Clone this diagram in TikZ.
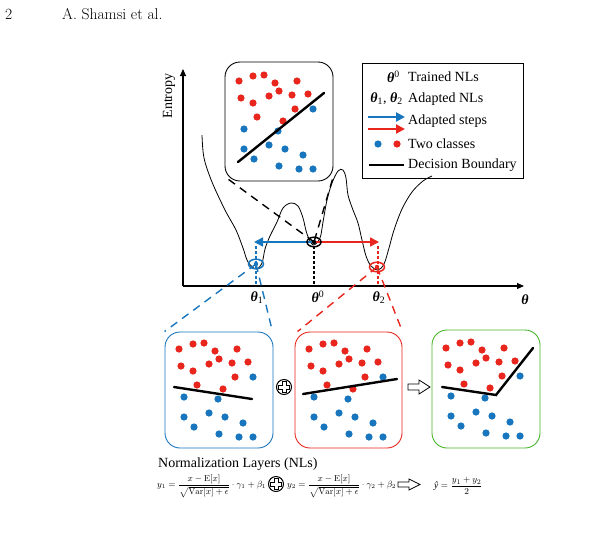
\documentclass[tikz,border=0pt]{standalone}
\usepackage{amsmath}
\usepackage{fontspec}
\newfontfamily\tnr{Liberation Serif}
\usetikzlibrary{arrows.meta}
\definecolor{cblue}{RGB}{23,118,190}
\definecolor{cred}{RGB}{232,38,30}
\definecolor{cgreen}{RGB}{70,180,40}
\newcommand\bth{\textbf{\textit{θ}}}
\newcommand\classdots[2]{%
  \foreach \a/\b in {14/17,28/12,39/11,50/19,72/17,16/34,28/39,44/32,54/27,67/31,83/30,70/45,32/53,58/57}
    {\fill[cred] (#1+\a,#2+\b) circle[radius=3.6];}
  \foreach \a/\b in {88/45,19/65,53/67,19/85,44/81,60/85,78/91,29/95,54/102,74/105,88/105}
    {\fill[cblue] (#1+\a,#2+\b) circle[radius=3.6];}
}
\begin{document}
\begin{tikzpicture}[x=1pt,y=-1pt,
  lab/.style={font=\tnr\fontsize{14}{16}\selectfont, inner sep=0},
  eqn/.style={font=\fontsize{8.6}{10}\selectfont, inner sep=0},
  panel/.style={draw, line width=0.9, rounded corners=15, fill=white, inner sep=0},
  dboundary/.style={line width=2.4, line cap=round},
  projdash/.style={line width=1.4, dash pattern=on 8pt off 6pt},
  vdot/.style={line width=2, dash pattern=on 3pt off 2pt},
  stepar/.style={line width=1.6, -{Triangle[length=9,width=9]}},
  oplusnode/.style={circle, draw, line width=1, minimum size=15, inner sep=0}
]
\useasboundingbox (0,0) rectangle (605,533);

% header
\node[anchor=base west, inner sep=0, font=\fontsize{15.6}{18}\selectfont] (pg) at (5,19) {2};
\node[anchor=base west, inner sep=0, font=\fontsize{15.6}{18}\selectfont] (auth) at (62,19) {A. Shamsi et al.};

% axes
\coordinate (O) at (183,286);
\coordinate (Ytop) at (183,69);
\coordinate (Xend) at (524,286);
\draw[line width=1.1, -{Triangle[length=7,width=6]}] (O) -- (Ytop);
\draw[line width=1.1, -{Triangle[length=7,width=6]}] (O) -- (Xend);
\node[lab, rotate=90] (ent) at (169,96) {Entropy};

% loss landscape curve
\draw[line width=0.8] plot[smooth, tension=0.55] coordinates {
 (202,135) (204,158) (212,182) (225,210) (236,230) (243,248) (248,262) (256,269)
 (262,263) (265,249) (270,236) (277,222) (283,208) (291,203) (298,206) (303,218)
 (307,234) (313,245) (320,238) (323,222) (327,200) (332,183) (338,171) (343,170)
 (346,178) (348,195) (353,210) (358,223) (362,240) (366,256) (371,266) (378,270)
 (384,264) (389,248) (394,230) (402,209) (412,192) (423,181) (432,176)};

% key points
\coordinate (c0) at (314,242);
\coordinate (c1) at (256,264);
\coordinate (c2) at (377,267);
\coordinate (a1) at (254,242);
\coordinate (a2) at (379,242);

% boxes
\node[panel, minimum width=108, minimum height=119] (tbox) at (279,121.5) {};
\node[panel, draw=cblue, minimum width=108, minimum height=116] (bbox) at (219,390) {};
\node[panel, draw=cred, minimum width=107, minimum height=116] (rbox) at (348.5,390) {};
\node[panel, draw=cgreen, minimum width=108, minimum height=118] (gbox) at (486,389) {};

% projection dashed lines
\draw[projdash] (tbox.south west) ++(4,-2) -- (c0);
\draw[projdash] (tbox.south east) ++(-1,-2) -- (c0);
\draw[projdash, cblue] (c1) -- (bbox.north west);
\draw[projdash, cblue] (c1) -- ([xshift=-1]bbox.north east);
\draw[projdash, cred] (c2) -- ([xshift=3]rbox.north west);
\draw[projdash, cred] (c2) -- (rbox.north east);

% vertical dotted lines
\draw[vdot, cblue] (256,246) -- (256,286);
\draw[vdot, black] (314,246) -- (314,286);
\draw[vdot, cred] (378,246) -- (378,286);

% steps
\draw[stepar, cblue] (c0) -- (a1);
\draw[stepar, cred] (c0) -- (a2);

% markers
\draw[line width=1.5] (c0) ellipse[x radius=7, y radius=4.8];
\fill (c0) circle[radius=2.2];
\draw[line width=1.5, cblue] (c1) ellipse[x radius=7.5, y radius=4.8];
\fill[cblue] (c1) circle[radius=2.2];
\draw[line width=1.5, cred] (c2) ellipse[x radius=7.5, y radius=4.8];
\fill[cred] (c2) circle[radius=2.2];

% axis labels
\node[lab] (t1) at (257,298) {\bth\textsubscript{1}};
\node[lab] (t0) at (318,297) {\bth\textsuperscript{0}};
\node[lab] (t2) at (379,298) {\bth\textsubscript{2}};
\node[lab] (tx) at (525,300) {\bth};

% dots in panels
\classdots{225}{64}
\classdots{165}{332}
\classdots{295}{332}
\classdots{432}{331}

% decision boundaries
\draw[dboundary] (238,162) -- (324,93);
\draw[dboundary] (174,387) -- (252,399);
\draw[dboundary] (303,394) -- (397,379);
\draw[dboundary] (442,387) -- (496,395) -- (533,348);

% legend
\node[draw, line width=0.9, minimum width=161, minimum height=115, inner sep=0] (leg) at (442.5,120.5) {};
\node[lab, anchor=east] (l1) at (400,77) {\bth\textsuperscript{0}};
\node[lab, anchor=west] (l1t) at (408,77) {Trained NLs};
\node[lab, anchor=east] (l2) at (403,99) {\bth\textsubscript{1}, \bth\textsubscript{2}};
\node[lab, anchor=west] (l2t) at (408,99) {Adapted NLs};
\coordinate (la1) at (368,117);
\coordinate (lb1) at (405,117);
\coordinate (la2) at (368,129);
\coordinate (lb2) at (405,129);
\draw[stepar, line width=2, cblue] (la1) -- (lb1);
\draw[stepar, line width=2, cred] (la2) -- (lb2);
\node[lab, anchor=west] (l3t) at (408,121) {Adapted steps};
\fill[cblue] (378,144) circle[radius=3.6];
\fill[cred] (397,144) circle[radius=3.6];
\node[lab, anchor=west] (l4t) at (408,144) {Two classes};
\coordinate (ld1) at (369,165);
\coordinate (ld2) at (404,165);
\draw[line width=2.2] (ld1) -- (ld2);
\node[lab, anchor=west] (l5t) at (408,165) {Decision Boundary};

% combine symbols between panels
\node[oplusnode] (op1) at (284,387) {};
\draw[line width=0.8, shift={(op1.center)}] (-2,-5.5) -- (2,-5.5) -- (2,-2) -- (5.5,-2) -- (5.5,2) -- (2,2) -- (2,5.5) -- (-2,5.5) -- (-2,2) -- (-5.5,2) -- (-5.5,-2) -- (-2,-2) -- cycle;
\draw[line width=0.8] (408,384) -- (419,384) -- (419,380) -- (430,387) -- (419,394) -- (419,390) -- (408,390) -- cycle;

% bottom text
\node[lab, anchor=west] (nl) at (158,464) {Normalization Layers (NLs)};
\node[eqn, anchor=west] (eq1) at (157,486) {$y_1=\dfrac{x-\mathrm{E}[x]}{\sqrt{\mathrm{Var}[x]+\epsilon}}\cdot\gamma_1+\beta_1$};
\node[oplusnode] (op2) at (276,484) {};
\draw[line width=0.8, shift={(op2.center)}] (-2,-5.5) -- (2,-5.5) -- (2,-2) -- (5.5,-2) -- (5.5,2) -- (2,2) -- (2,5.5) -- (-2,5.5) -- (-2,2) -- (-5.5,2) -- (-5.5,-2) -- (-2,-2) -- cycle;
\node[eqn, anchor=west] (eq2) at (287,486) {$y_2=\dfrac{x-\mathrm{E}[x]}{\sqrt{\mathrm{Var}[x]+\epsilon}}\cdot\gamma_2+\beta_2$};
\draw[line width=0.8] (398,482) -- (409,482) -- (409,479) -- (420,484.5) -- (409,490) -- (409,487) -- (398,487) -- cycle;
\node[eqn, anchor=west, font=\fontsize{9.5}{11}\selectfont] (eq3) at (434,486) {{\tnr\itshape ŷ}${}=\dfrac{y_1+y_2}{2}$};
\end{tikzpicture}
\end{document}
